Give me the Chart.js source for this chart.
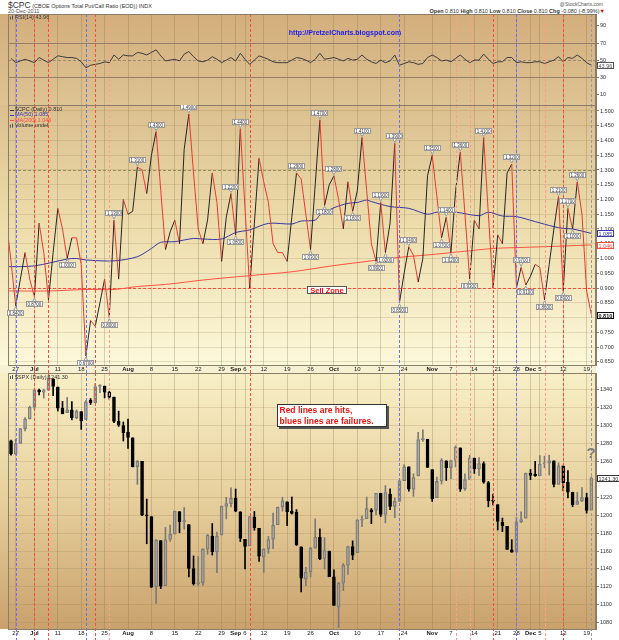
<!DOCTYPE html>
<html>
<head>
<meta charset="utf-8">
<title>$CPC put/call ratio and $SPX</title>
<script src="https://cdn.jsdelivr.net/npm/chart.js@4.4.1/dist/chart.umd.min.js"></script>
<style>
  body { margin: 0; background: #fff; }
  #wrap { position: relative; width: 619px; height: 640px; overflow: hidden; font-family: "Liberation Sans", Arial, sans-serif; }
  #wrap canvas { position: absolute; left: 0; }
  .t { position: absolute; white-space: nowrap; color: #333; line-height: 1; }
</style>
</head>
<body>
<div id="wrap">
  <div class="t" style="left:8px;top:1px;font-size:5.5px"><span style="font-size:8.5px">$CPC</span> (CBOE Options Total Put/Call Ratio (EOD)) INDX</div>
  <div class="t" style="left:8px;top:9px;font-size:5.5px;color:#555">20-Dec-2011</div>
  <div class="t" style="right:16px;top:2px;font-size:5px;color:#555">@StockCharts.com</div>
  <div class="t" style="right:14px;top:9px;font-size:5.5px"><b>Open</b> 0.810 <b>High</b> 0.810 <b>Low</b> 0.810 <b>Close</b> 0.810 <b>Chg</b> -0.080 (-8.99%)<span style="color:#c00">&#9660;</span></div>
  <canvas id="rsi" width="619" height="91" style="top:14px"></canvas>
  <canvas id="pc" width="619" height="268" style="top:105px"></canvas>
  <canvas id="spx" width="619" height="267" style="top:373px"></canvas>
</div>
<script>
"use strict";

const FONT = '"Liberation Sans", Arial, sans-serif';

// trading days: 0 = 27 Jun 2011 ... 123 = 20 Dec 2011
const tickDays = [0, 4, 9, 14, 19, 24, 29, 34, 39, 44, 47, 49, 53, 58, 63, 68, 73, 78, 83, 89, 93, 98, 103, 107, 110, 112, 117, 122];
const tickText = ['27', 'Jul', '11', '18', '25', 'Aug', '8', '15', '22', '29', 'Sep', '6', '12', '19', '26', 'Oct', '10', '17', '24', 'Nov', '7', '14', '21', '28', 'Dec', '5', '12', '19'];
const months = ['Jul', 'Aug', 'Sep', 'Oct', 'Nov', 'Dec'];

// $CPC daily close, first value = day -2
const pcStart = -2;
const pcRatio = [1.13, 0.99,
  0.84, 0.93, 1.02, 0.93, 0.87, 1.12, 1.02, 0.86, 1.02, 1.17,
  1.10, 1.00, 1.07, 1.07, 0.98, 0.67, 0.79, 0.77, 0.85, 0.93,
  0.80, 1.13, 0.93, 1.20, 1.15, 1.16, 1.31, 1.30, 1.22, 1.35,
  1.43, 1.23, 1.03, 1.09, 1.13, 1.05, 1.37, 1.49, 1.29, 1.10,
  1.05, 1.13, 1.29, 1.19, 0.99, 1.14, 1.22, 1.08, 1.44, 1.17,
  0.90, 1.12, 1.34, 1.26, 1.19, 1.05, 1.02, 1.02, 0.99, 1.14,
  1.29, 1.27, 1.15, 1.03, 1.25, 1.47, 1.18, 1.25, 1.28, 1.20,
  1.10, 1.26, 1.16, 1.23, 1.41, 1.23, 1.05, 0.99, 1.19, 1.02,
  1.12, 1.39, 0.85, 0.95, 1.04, 1.01, 0.92, 1.00, 1.28, 1.35,
  1.21, 1.07, 1.14, 1.02, 1.23, 1.36, 1.15, 0.93, 1.13, 1.10,
  1.41, 1.15, 0.90, 1.08, 1.05, 1.29, 1.32, 0.90, 0.97, 0.91,
  0.94, 0.98, 0.97, 0.86, 0.98, 1.10, 1.21, 0.89, 1.17, 1.10,
  1.26, 1.15, 0.89, 0.81];

const ma50Days = [-2, 4, 11, 13, 15, 21, 26, 29, 31, 34, 38, 40, 44, 47, 50, 54, 59, 61, 64, 65, 68, 71, 73, 75, 76, 80, 84, 88, 90, 94, 99, 101, 104, 107, 111, 115, 117, 119, 123];
const ma50 = [0.972, 0.975, 0.998, 1.000, 0.995, 0.992, 1.006, 1.034, 1.055, 1.057, 1.068, 1.066, 1.066, 1.088, 1.097, 1.119, 1.117, 1.127, 1.130, 1.147, 1.172, 1.187, 1.190, 1.198, 1.193, 1.176, 1.170, 1.150, 1.157, 1.157, 1.145, 1.157, 1.144, 1.142, 1.125, 1.108, 1.102, 1.100, 1.085];
const ma200Days = [-2, 7, 15, 21, 26, 32, 40, 50, 59, 68, 76, 82, 88, 95, 102, 107, 113, 123];
const ma200 = [0.890, 0.890, 0.895, 0.895, 0.905, 0.912, 0.927, 0.942, 0.955, 0.976, 0.992, 1.004, 1.012, 1.023, 1.034, 1.037, 1.040, 1.046];

// value flags on turning points: [day, above]
const pcFlags = [[0, 0], [4, 0], [11, 0], [15, 0], [20, 0], [21, 1], [26, 1], [30, 1], [37, 1], [46, 1], [47, 0], [48, 1],
  [60, 1], [63, 0], [65, 1], [66, 0], [68, 1], [72, 0], [74, 1], [77, 0], [78, 1], [79, 0], [81, 1], [82, 0], [84, 1],
  [89, 1], [91, 0], [92, 1], [93, 0], [95, 1], [97, 0], [100, 1], [106, 1], [108, 1], [109, 0], [113, 0], [116, 1],
  [117, 0], [118, 1], [119, 0], [120, 1]];

// RSI(14), first value = day -1
const rsiStart = -1;
const rsi14 = [52,
  47, 49, 51, 49, 47, 53, 50, 47, 51, 55,
  54, 53, 53, 52, 48, 41, 44, 45, 46, 48,
  47, 56, 51, 56, 55, 55, 59, 58, 56, 59,
  62, 55, 49, 50, 51, 49, 57, 60, 54, 49,
  48, 50, 54, 51, 47, 50, 53, 49, 58, 51,
  45, 50, 55, 53, 51, 48, 47, 47, 47, 50,
  53, 52, 50, 47, 51, 58, 51, 52, 53, 51,
  49, 52, 50, 51, 56, 51, 48, 46, 50, 47,
  49, 56, 44, 46, 48, 47, 45, 46, 53, 56,
  53, 49, 50, 48, 52, 56, 51, 47, 50, 50,
  57, 51, 46, 48, 48, 53, 53, 47, 48, 47,
  47, 48, 48, 46, 48, 50, 54, 48, 53, 52,
  56, 52, 47, 43.96];

// $SPX daily candles, first value = day -1
const spxStart = -1;
const spxOpen = [1283.0,
  1268.4, 1280.2, 1296.8, 1307.6, 1320.6, 1339.6, 1337.6, 1339.6, 1352.4, 1343.3,
  1319.6, 1314.5, 1317.7, 1308.9, 1315.9, 1307.1, 1328.7, 1325.7, 1343.8, 1344.3,
  1337.4, 1331.9, 1304.8, 1300.1, 1292.6, 1286.6, 1254.3, 1260.2, 1200.3, 1198.5,
  1120.2, 1171.8, 1121.3, 1172.9, 1179.0, 1204.2, 1192.9, 1189.6, 1140.5, 1123.6,
  1124.4, 1162.2, 1176.7, 1158.9, 1177.9, 1209.8, 1213.0, 1219.1, 1203.9, 1173.0,
  1165.9, 1198.0, 1185.4, 1153.5, 1162.6, 1173.3, 1189.4, 1209.2, 1214.9, 1204.5,
  1203.6, 1164.6, 1128.8, 1136.9, 1163.3, 1175.4, 1151.7, 1159.9, 1131.2, 1097.4,
  1124.0, 1144.1, 1165.0, 1158.2, 1194.6, 1196.2, 1206.0, 1205.7, 1224.5, 1200.8,
  1223.5, 1209.9, 1215.4, 1238.7, 1254.2, 1229.2, 1243.9, 1284.4, 1284.9, 1251.0,
  1219.6, 1238.2, 1260.8, 1253.2, 1261.1, 1275.2, 1229.6, 1240.1, 1263.9, 1251.7,
  1257.8, 1236.6, 1216.2, 1212.0, 1192.2, 1187.5, 1161.4, 1158.7, 1192.6, 1196.7,
  1246.9, 1246.0, 1244.3, 1257.2, 1258.1, 1260.9, 1234.5, 1255.1, 1236.8, 1225.7,
  1212.1, 1216.1, 1219.7, 1205.7];
const spxHigh = [1283.9,
  1284.9, 1296.8, 1309.2, 1321.9, 1341.0, 1340.9, 1340.9, 1356.5, 1352.4, 1343.3,
  1327.2, 1331.5, 1326.9, 1317.7, 1315.9, 1328.1, 1330.4, 1347.0, 1346.1, 1344.3,
  1338.5, 1331.9, 1316.3, 1304.2, 1307.4, 1286.6, 1261.2, 1260.2, 1218.1, 1198.5,
  1172.9, 1171.8, 1186.3, 1189.0, 1204.5, 1204.2, 1208.5, 1189.6, 1154.5, 1154.0,
  1162.4, 1178.5, 1190.7, 1181.2, 1210.3, 1220.1, 1230.7, 1229.3, 1203.9, 1173.0,
  1198.6, 1204.2, 1185.4, 1162.5, 1176.4, 1202.4, 1209.1, 1220.1, 1214.9, 1220.4,
  1206.3, 1164.6, 1141.7, 1164.2, 1195.9, 1184.7, 1175.1, 1159.9, 1138.9, 1125.1,
  1146.1, 1165.6, 1171.4, 1194.9, 1199.2, 1220.3, 1207.5, 1224.6, 1224.6, 1233.1,
  1229.6, 1219.4, 1239.0, 1256.6, 1254.2, 1246.3, 1292.7, 1295.5, 1284.9, 1251.0,
  1242.5, 1263.2, 1260.8, 1261.7, 1277.6, 1275.2, 1246.2, 1266.9, 1263.9, 1264.3,
  1259.6, 1237.7, 1223.5, 1212.0, 1196.8, 1187.5, 1172.7, 1197.4, 1203.7, 1247.1,
  1251.1, 1260.1, 1266.7, 1266.0, 1267.1, 1260.9, 1258.3, 1255.1, 1249.9, 1225.7,
  1225.6, 1231.0, 1224.6, 1242.8];
const spxLow = [1267.2,
  1267.5, 1280.2, 1294.1, 1307.6, 1318.2, 1334.3, 1330.9, 1339.6, 1333.7, 1316.4,
  1313.3, 1314.5, 1306.5, 1307.8, 1295.9, 1307.1, 1323.7, 1325.7, 1336.9, 1331.1,
  1329.6, 1303.5, 1299.2, 1282.9, 1274.7, 1254.0, 1234.6, 1199.5, 1168.1, 1119.3,
  1101.5, 1118.0, 1121.3, 1170.7, 1179.0, 1180.5, 1184.5, 1131.0, 1122.0, 1121.1,
  1121.6, 1156.3, 1155.5, 1135.9, 1177.9, 1195.8, 1209.4, 1203.9, 1170.6, 1140.1,
  1165.9, 1183.3, 1148.4, 1136.1, 1157.4, 1162.7, 1189.4, 1204.5, 1188.4, 1201.3,
  1166.2, 1114.2, 1121.4, 1131.1, 1163.3, 1150.4, 1139.9, 1131.3, 1098.9, 1074.8,
  1115.7, 1134.0, 1150.3, 1158.2, 1187.3, 1196.2, 1190.6, 1200.4, 1198.6, 1191.5,
  1206.3, 1197.3, 1215.4, 1238.7, 1226.8, 1221.1, 1243.9, 1282.5, 1253.2, 1215.4,
  1219.6, 1234.8, 1238.9, 1240.8, 1254.0, 1226.6, 1227.7, 1240.1, 1246.7, 1244.3,
  1235.7, 1209.4, 1211.4, 1183.5, 1181.7, 1161.8, 1158.7, 1158.7, 1191.8, 1196.7,
  1239.7, 1243.4, 1244.3, 1253.0, 1244.8, 1231.5, 1234.5, 1227.3, 1219.4, 1209.5,
  1212.1, 1215.2, 1202.4, 1205.7];
const spxClose = [1268.5,
  1280.1, 1296.7, 1307.4, 1320.6, 1339.7, 1337.9, 1339.2, 1353.2, 1343.8, 1319.5,
  1313.6, 1317.7, 1308.9, 1316.1, 1305.4, 1326.7, 1325.8, 1343.8, 1345.0, 1337.4,
  1331.9, 1304.9, 1300.7, 1292.3, 1286.9, 1254.1, 1260.3, 1200.1, 1199.4, 1119.5,
  1172.5, 1120.8, 1172.6, 1178.8, 1204.5, 1192.8, 1193.9, 1140.7, 1123.5, 1123.8,
  1162.4, 1177.6, 1159.3, 1176.8, 1210.1, 1212.9, 1218.9, 1204.4, 1174.0, 1165.2,
  1198.6, 1185.9, 1154.2, 1162.3, 1172.9, 1188.7, 1209.1, 1216.0, 1204.1, 1202.1,
  1166.8, 1129.6, 1136.4, 1163.0, 1175.4, 1151.1, 1160.4, 1131.4, 1099.2, 1124.0,
  1144.0, 1165.0, 1155.5, 1194.9, 1195.5, 1207.3, 1203.7, 1224.6, 1200.9, 1225.4,
  1209.9, 1215.4, 1238.3, 1254.2, 1229.1, 1242.0, 1284.6, 1285.1, 1253.3, 1218.3,
  1237.9, 1261.2, 1253.2, 1261.1, 1275.9, 1229.1, 1239.7, 1263.9, 1251.8, 1257.8,
  1236.9, 1216.1, 1215.7, 1193.0, 1188.0, 1161.8, 1158.7, 1192.6, 1195.2, 1247.0,
  1244.6, 1244.3, 1257.1, 1258.5, 1261.0, 1234.4, 1255.2, 1236.5, 1225.7, 1211.8,
  1215.8, 1219.7, 1205.4, 1241.3];

// marked days (dashed verticals)
const hitDays = [4, 7, 17, 50, 102, 117];
const softHitDays = [20, 94, 97, 113];
const failDays = [0, 15, 82, 107];
const lastDay = 123;

const rsiTicks = [10, 30, 50, 70, 90];
const pcTicks = [0.650, 0.675, 0.700, 0.725, 0.750, 0.775, 0.800, 0.825, 0.850, 0.875, 0.900, 0.925, 0.950, 0.975,
  1.000, 1.025, 1.050, 1.075, 1.100, 1.125, 1.150, 1.175, 1.200, 1.225, 1.250, 1.275, 1.300, 1.325, 1.350, 1.375,
  1.400, 1.425, 1.450, 1.475, 1.500];
const spxTicks = [1080, 1090, 1100, 1110, 1120, 1130, 1140, 1150, 1160, 1170, 1180, 1190, 1200, 1210, 1220, 1230,
  1240, 1250, 1260, 1270, 1280, 1290, 1300, 1310, 1320, 1330, 1340, 1350];

const xMin = -1.645, xMax = 124;

function xAxis(h, show) {
  return {
    type: 'linear', position: 'bottom', min: xMin, max: xMax, offset: false,
    afterBuildTicks: s => { s.ticks = tickDays.map(v => ({ value: v })); },
    afterFit: s => { s.height = h; s.paddingLeft = 0; s.paddingRight = 0; },
    grid: { color: 'rgba(140,112,75,0.30)', drawTicks: false, offset: false },
    border: { display: false },
    ticks: {
      display: show, autoSkip: false, maxRotation: 0, minRotation: 0, padding: 1, color: '#222',
      font: c => ({ family: FONT, size: 6, weight: months.includes(tickText[c.index]) ? 'bold' : 'normal' }),
      callback: (v, k) => tickText[k]
    }
  };
}

function yAxis(min, max, ticks, fmt, gridColor) {
  return {
    type: 'linear', position: 'right', min, max,
    afterBuildTicks: s => { s.ticks = ticks.map(v => ({ value: v })); },
    afterFit: s => { s.width = 23; s.paddingTop = 0; s.paddingBottom = 0; },
    grid: { color: gridColor, tickLength: 3, tickColor: '#8a7d6a' },
    border: { display: true, color: '#8a7d6a' },
    ticks: { font: { family: FONT, size: 5.5 }, color: '#333', padding: 1, callback: fmt }
  };
}

function eventLines(chart) {
  const { ctx, chartArea: a, scales: { x } } = chart;
  const groups = [[hitDays, '#ff4a3d'], [softHitDays, '#ff9c8c'], [failDays, '#6d6dff'], [[lastDay], '#9a9a9a']];
  ctx.save();
  ctx.lineWidth = 1;
  ctx.setLineDash([3, 2]);
  groups.forEach(([days, color]) => {
    ctx.strokeStyle = color;
    days.forEach(d => {
      const px = Math.round(x.getPixelForValue(d)) + 0.5;
      ctx.beginPath();
      ctx.moveTo(px, a.top);
      ctx.lineTo(px, chart.height);
      ctx.stroke();
    });
  });
  ctx.restore();
}

function hLine(chart, v, color, dash, width) {
  const { ctx, chartArea: a, scales: { y } } = chart;
  const py = Math.round(y.getPixelForValue(v)) + 0.5;
  ctx.save();
  ctx.strokeStyle = color;
  ctx.lineWidth = width || 1;
  ctx.setLineDash(dash || []);
  ctx.beginPath();
  ctx.moveTo(a.left, py);
  ctx.lineTo(a.right, py);
  ctx.stroke();
  ctx.restore();
}

function valueBox(chart, v, text, color, bold) {
  const ctx = chart.ctx;
  const py = Math.round(chart.scales.y.getPixelForValue(v));
  ctx.save();
  ctx.font = (bold ? 'bold ' : '') + '5.5px ' + FONT;
  const w = Math.ceil(ctx.measureText(text).width) + 3, h = 7;
  const bx = chart.chartArea.right + 1, by = py - 3;
  ctx.fillStyle = '#fff';
  ctx.fillRect(bx, by, w, h);
  ctx.strokeStyle = color;
  ctx.lineWidth = 1;
  ctx.strokeRect(bx + 0.5, by + 0.5, w - 1, h - 1);
  ctx.fillStyle = color;
  ctx.textAlign = 'left';
  ctx.textBaseline = 'middle';
  ctx.fillText(text, bx + 1.5, by + h / 2 + 0.5);
  ctx.restore();
}

function textBox(ctx, x, y, w, h, lines, font, color, lineGap) {
  ctx.save();
  ctx.fillStyle = '#555';
  ctx.fillRect(x + 2, y + 2, w, h);
  ctx.fillStyle = '#fff';
  ctx.fillRect(x, y, w, h);
  ctx.strokeStyle = '#333';
  ctx.lineWidth = 1;
  ctx.strokeRect(x + 0.5, y + 0.5, w - 1, h - 1);
  ctx.font = font;
  ctx.fillStyle = color;
  ctx.textAlign = 'left';
  ctx.textBaseline = 'middle';
  lines.forEach((t, k) => ctx.fillText(t, x + 2.5, y + lineGap / 2 + 1 + k * lineGap));
  ctx.restore();
}

function legendRows(ctx, rows, x, y, gap) {
  ctx.save();
  ctx.font = '5.5px ' + FONT;
  ctx.textAlign = 'left';
  ctx.textBaseline = 'middle';
  rows.forEach(([t, color, mark], k) => {
    const py = y + k * gap;
    if (mark === 'line') {
      ctx.fillStyle = color;
      ctx.fillRect(x, Math.round(py), 4, 1);
    } else if (mark === 'bar') {
      ctx.fillStyle = '#555';
      ctx.fillRect(x, py - 1, 1, 3);
      ctx.fillRect(x + 2, py - 2, 1, 4);
    }
    ctx.fillStyle = color;
    ctx.fillText(t, x + 5, py);
  });
  ctx.restore();
}

function decor(stops, strip, extra) {
  return {
    id: 'decor',
    beforeDraw(chart) {
      const { ctx, chartArea: a } = chart;
      const g = ctx.createLinearGradient(0, a.top, 0, a.bottom);
      stops.forEach(([p, c]) => g.addColorStop(p, c));
      ctx.save();
      ctx.fillStyle = g;
      ctx.fillRect(0, a.top, a.right, a.bottom - a.top);
      if (strip) {
        ctx.fillStyle = strip;
        ctx.fillRect(0, a.bottom, a.right, chart.height - a.bottom);
      }
      ctx.restore();
    },
    beforeDatasetsDraw(chart) { if (extra.under) extra.under(chart); },
    afterDatasetsDraw(chart) {
      eventLines(chart);
      const { ctx, chartArea: a } = chart;
      ctx.save();
      ctx.strokeStyle = '#8a7d6a';
      ctx.lineWidth = 1;
      ctx.strokeRect(a.left + 0.5, a.top + 0.5, a.right - a.left - 1, a.bottom - a.top);
      ctx.restore();
      if (extra.over) extra.over(chart);
    }
  };
}

const common = {
  responsive: false, animation: false, devicePixelRatio: 1, events: [],
  layout: { padding: { left: 8, right: 0, top: 0, bottom: 0 } }
};
const noPlugins = { legend: { display: false }, tooltip: { enabled: false } };

// ---------- RSI panel ----------
new Chart(document.getElementById('rsi'), {
  type: 'line',
  data: {
    datasets: [{
      data: rsi14.map((v, k) => ({ x: rsiStart + k, y: v })),
      borderColor: '#3c3c3c', borderWidth: 1, pointRadius: 0, tension: 0
    }]
  },
  options: {
    ...common,
    plugins: noPlugins,
    scales: {
      x: xAxis(0, false),
      y: yAxis(-2.6, 104, rsiTicks, v => String(v), 'rgba(0,0,0,0)')
    }
  },
  plugins: [decor([[0, '#d3ae7c'], [1, '#dec393']], null, {
    under(chart) {
      hLine(chart, 70, '#958067', null, 1);
      hLine(chart, 30, '#958067', null, 1);
      hLine(chart, 50, '#978b73', [3, 2], 1);
    },
    over(chart) {
      const ctx = chart.ctx;
      legendRows(ctx, [['RSI(14) ' + rsi14[rsi14.length - 1].toFixed(2), '#333', 'bar']], 10, 3.5, 6);
      ctx.save();
      ctx.font = 'bold 7px ' + FONT;
      ctx.fillStyle = '#1c1cf0';
      ctx.textAlign = 'center';
      ctx.textBaseline = 'middle';
      ctx.fillText('http://PretzelCharts.blogspot.com', 345, 19.5);
      ctx.restore();
      valueBox(chart, rsi14[rsi14.length - 1], rsi14[rsi14.length - 1].toFixed(2), '#555', false);
    }
  })]
});

// ---------- $CPC panel ----------
function peakFlag(ctx, px, py, text, above) {
  ctx.font = '4.5px ' + FONT;
  const w = Math.ceil(ctx.measureText(text).width) + 3, h = 6;
  const bx = Math.round(px - w / 2), by = above ? Math.round(py - 4 - h) : Math.round(py + 4);
  ctx.fillStyle = '#fff';
  ctx.strokeStyle = '#9a9a9a';
  ctx.lineWidth = 1;
  ctx.beginPath();
  if (above) { ctx.moveTo(px - 2, by + h - 1); ctx.lineTo(px + 2, by + h - 1); ctx.lineTo(px, py - 1); }
  else { ctx.moveTo(px - 2, by + 1); ctx.lineTo(px + 2, by + 1); ctx.lineTo(px, py + 1); }
  ctx.closePath();
  ctx.fill();
  ctx.stroke();
  ctx.fillRect(bx, by, w, h);
  ctx.strokeRect(bx + 0.5, by + 0.5, w - 1, h - 1);
  ctx.fillStyle = '#333';
  ctx.textAlign = 'center';
  ctx.textBaseline = 'middle';
  ctx.fillText(text, px, by + h / 2 + 0.5);
}

new Chart(document.getElementById('pc'), {
  type: 'line',
  data: {
    datasets: [
      {
        data: pcRatio.map((v, k) => ({ x: pcStart + k, y: v })),
        borderWidth: 1, pointRadius: 0, tension: 0, borderColor: '#222',
        segment: { borderColor: c => (c.p1.parsed.y > c.p0.parsed.y ? '#262626' : '#ea3a30') }
      },
      {
        data: ma50.map((v, k) => ({ x: ma50Days[k], y: v })),
        borderColor: '#3838a8', borderWidth: 1, pointRadius: 0, tension: 0.3
      },
      {
        data: ma200.map((v, k) => ({ x: ma200Days[k], y: v })),
        borderColor: '#ff5245', borderWidth: 1, pointRadius: 0, tension: 0.3
      }
    ]
  },
  options: {
    ...common,
    plugins: noPlugins,
    scales: {
      x: xAxis(8, true),
      y: yAxis(0.639, 1.5203, pcTicks, v => v.toFixed(3), 'rgba(150,122,82,0.22)')
    }
  },
  plugins: [decor([[0, '#dbbf8f'], [0.45, '#eddcab'], [1, '#fcf8da']], '#f7f1d3', {
    under(chart) {
      hLine(chart, 1.3, '#8f8f55', [3, 2], 1);
      hLine(chart, 0.9, '#ff4a3d', [3, 2], 1);
    },
    over(chart) {
      const { ctx, scales: { x, y } } = chart;
      ctx.save();
      pcFlags.forEach(([d, above]) => {
        const v = pcRatio[d - pcStart];
        peakFlag(ctx, x.getPixelForValue(d), y.getPixelForValue(v), v.toFixed(4), above);
      });
      ctx.restore();

      // Sell Zone tag on the 0.900 line
      ctx.save();
      ctx.font = 'bold 7.5px ' + FONT;
      const sx = x.getPixelForValue(66.5), sy = y.getPixelForValue(0.9) + 2;
      const sw = Math.ceil(ctx.measureText('Sell Zone').width) + 6;
      ctx.fillStyle = '#fff';
      ctx.fillRect(Math.round(sx - sw / 2), Math.round(sy - 4), sw, 8);
      ctx.strokeStyle = '#555';
      ctx.strokeRect(Math.round(sx - sw / 2) + 0.5, Math.round(sy - 4) + 0.5, sw - 1, 7);
      ctx.fillStyle = '#ee1111';
      ctx.textAlign = 'center';
      ctx.textBaseline = 'middle';
      ctx.fillText('Sell Zone', sx, Math.round(sy) + 0.5);
      ctx.restore();

      const last = pcRatio[pcRatio.length - 1];
      legendRows(ctx, [
        ['$CPC (Daily) ' + last.toFixed(3), '#333', 'line'],
        ['MA(50) ' + ma50[ma50.length - 1].toFixed(3), '#3838a8', 'line'],
        ['MA(200) ' + ma200[ma200.length - 1].toFixed(3), '#ff4a3d', 'line'],
        ['Volume undef', '#333', 'bar']
      ], 10, 4.5, 5.4);
      valueBox(chart, ma50[ma50.length - 1], ma50[ma50.length - 1].toFixed(3), '#3838a8', false);
      valueBox(chart, ma200[ma200.length - 1], ma200[ma200.length - 1].toFixed(3), '#ff4a3d', false);
      valueBox(chart, last, last.toFixed(3), '#111', true);
    }
  })]
});

// ---------- $SPX panel ----------
const spxDays = spxOpen.map((o, k) => spxStart + k);
const isDown = k => spxClose[k] < spxOpen[k];
const candleColor = k => (isDown(k) ? '#000' : '#7a7a7a');

new Chart(document.getElementById('spx'), {
  type: 'bar',
  data: {
    datasets: [
      {
        data: spxDays.map((d, k) => ({ x: d, y: [spxOpen[k], spxClose[k]] })),
        backgroundColor: c => (isDown(c.dataIndex) ? '#000' : 'rgba(255,255,255,0.18)'),
        borderColor: c => candleColor(c.dataIndex),
        borderWidth: 1, borderSkipped: false, barThickness: 3, minBarLength: 1, grouped: false
      },
      {
        data: spxDays.map((d, k) => ({ x: d, y: [Math.max(spxOpen[k], spxClose[k]), spxHigh[k]] })),
        backgroundColor: c => candleColor(c.dataIndex),
        borderWidth: 0, barThickness: 1, grouped: false
      },
      {
        data: spxDays.map((d, k) => ({ x: d, y: [spxLow[k], Math.min(spxOpen[k], spxClose[k])] })),
        backgroundColor: c => candleColor(c.dataIndex),
        borderWidth: 0, barThickness: 1, grouped: false
      }
    ]
  },
  options: {
    ...common,
    plugins: noPlugins,
    scales: {
      x: xAxis(11, true),
      y: yAxis(1072.9, 1358.9, spxTicks, v => String(v), 'rgba(150,122,82,0.22)')
    }
  },
  plugins: [decor([[0, '#f8efc6'], [0.5, '#e6cf9c'], [1, '#c9a16c']], '#ffffff', {
    over(chart) {
      const ctx = chart.ctx;
      const last = spxClose[spxClose.length - 1];
      legendRows(ctx, [['$SPX (Daily) ' + last.toFixed(2), '#333', 'bar']], 10, 4, 6);
      textBox(ctx, 277, 31, 110, 23, ['Red lines are hits,', 'blues lines are failures.'], 'bold 8.5px ' + FONT, '#ee1111', 11);
      ctx.save();
      ctx.font = 'bold 15px ' + FONT;
      ctx.fillStyle = '#7d7d7d';
      ctx.textAlign = 'center';
      ctx.textBaseline = 'middle';
      ctx.fillText('?', 591, 81);
      ctx.restore();
      valueBox(chart, last, last.toFixed(2), '#333', false);
    }
  })]
});
</script>
</body>
</html>
